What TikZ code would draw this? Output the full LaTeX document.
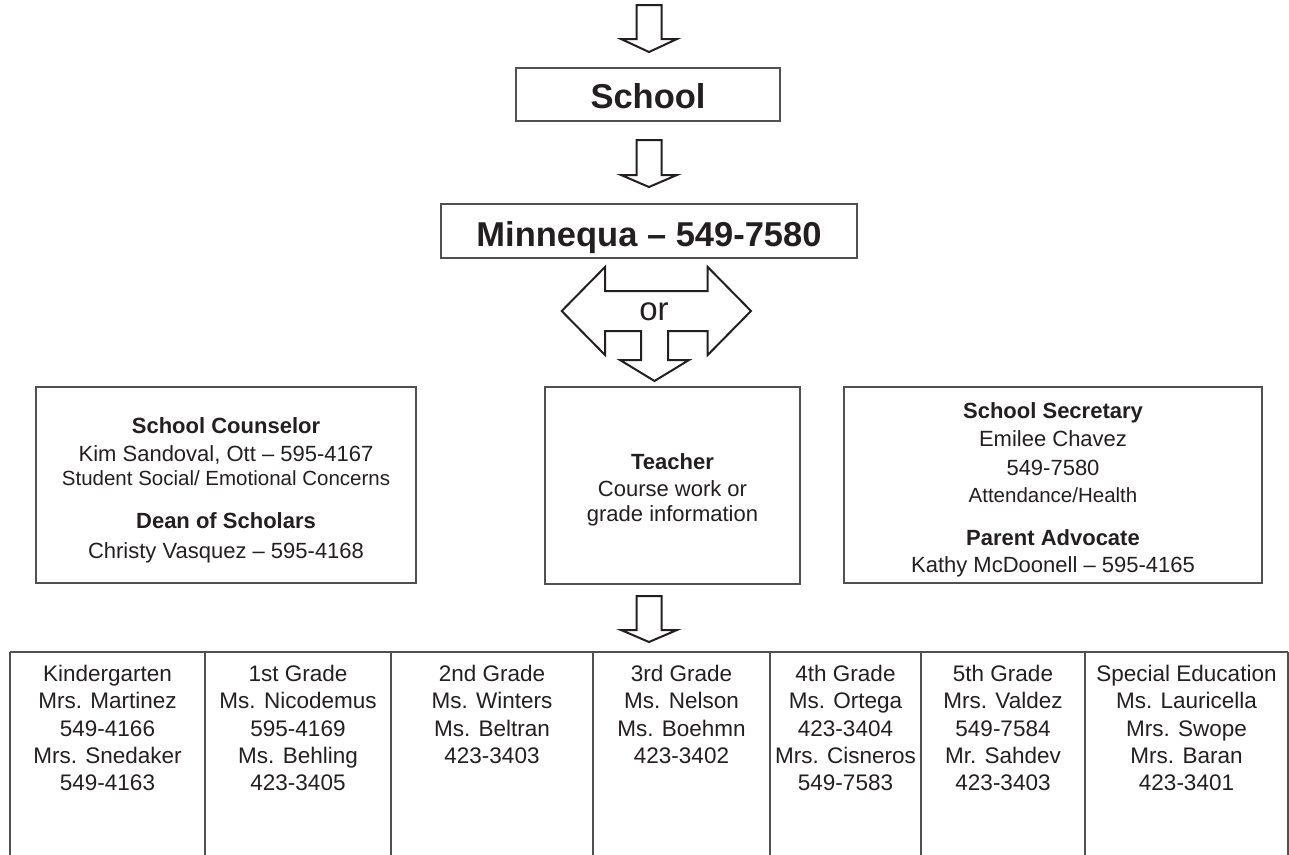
\documentclass[tikz,border=0pt]{standalone}
\usepackage{fontspec}
\setmainfont{Liberation Sans}
\definecolor{ink}{HTML}{231F20}
\definecolor{framec}{HTML}{505050}
\newcommand\bdown[4]{%
  \draw[blk] (#1-12.5,#2) -- (#1+12.5,#2) -- (#1+12.5,#3) -- (#1+28,#3) -- (#1,#4) -- (#1-28,#3) -- (#1-12.5,#3) -- cycle;}
\begin{document}
\begin{tikzpicture}[x=1pt,y=-1pt,
  framebox/.style={draw=framec, line width=1.5pt, inner sep=0pt},
  tabline/.style={draw=framec, line width=1.5pt},
  blk/.style={draw=ink, line width=2pt, fill=white, line join=miter},
  reg/.style={text=ink, inner sep=0pt, anchor=base, font=\fontsize{22}{26}\selectfont},
  sml/.style={reg, font=\fontsize{20.5}{24}\selectfont},
  bld/.style={reg, font=\fontsize{22}{26}\selectfont\bfseries},
  title/.style={reg, font=\fontsize{34.5}{40}\selectfont\bfseries},
  cell/.style={reg, font=\fontsize{22.5}{27}\selectfont}]
\useasboundingbox (0,0) rectangle (1289,854);

% arrows
\bdown{649}{5}{39}{52}
\bdown{649}{140}{175}{187}
\bdown{649}{596}{630}{642}

% title boxes
\node[framebox, minimum width=264pt, minimum height=53pt] (school) at (648,94.5) {};
\node[title] (schooltxt) at (648,108.3) {School};
\node[framebox, minimum width=416pt, minimum height=54pt] (minn) at (649,231) {};
\node[title] (minntxt) at (649,246.5) {Minnequa – 549-7580};

% or arrow
\draw[blk] (561.7,311) -- (605,267) -- (605,291) -- (707.7,291) -- (707.7,267)
  -- (751,311) -- (707.7,355) -- (707.7,331) -- (668,331) -- (668,360) -- (689,360)
  -- (654.5,381) -- (620,360) -- (641,360) -- (641,331) -- (605,331) -- (605,355) -- cycle;
\node[reg, font=\fontsize{33}{38}\selectfont] (ortxt) at (654,320) {or};

% three boxes
\node[framebox, minimum width=380pt, minimum height=196pt] (left) at (226,485) {};
\node[bld] (l1) at (226,433.3) {School Counselor};
\node[reg] (l2) at (226,461.7) {Kim Sandoval, Ott – 595-4167};
\node[sml] (l3) at (226,485) {Student Social/ Emotional Concerns};
\node[bld] (l4) at (226,528) {Dean of Scholars};
\node[reg] (l5) at (226,558) {Christy Vasquez – 595-4168};

\node[framebox, minimum width=255pt, minimum height=197pt] (teacher) at (672.5,485.5) {};
\node[bld] (t1) at (672.5,469) {Teacher};
\node[reg] (t2) at (672.5,496) {Course work or};
\node[reg] (t3) at (672.5,521.7) {grade information};

\node[framebox, minimum width=418pt, minimum height=196pt] (right) at (1053,485) {};
\node[bld] (r1) at (1053,418) {School Secretary};
\node[reg] (r2) at (1053,446) {Emilee Chavez};
\node[reg] (r3) at (1053,475) {549-7580};
\node[sml] (r4) at (1053,502.7) {Attendance/Health};
\node[bld] (r5) at (1053,545) {Parent Advocate};
\node[reg] (r6) at (1053,572.7) {Kathy McDoonell – 595-4165};

% table
\draw[tabline] (10,652) -- (1288,652);
\foreach \vx in {10,205,391,593,770,921,1085,1288}
  \draw[tabline] (\vx,652) -- (\vx,860);

\foreach \t [count=\i] in {Kindergarten,Mrs. Martinez,549-4166,Mrs. Snedaker,549-4163}
  \node[cell] (ca\i) at (107.5,654.2+27.3*\i) {\t};
\foreach \t [count=\i] in {1st Grade,Ms. Nicodemus,595-4169,Ms. Behling,423-3405}
  \node[cell] (cb\i) at (298,654.2+27.3*\i) {\t};
\foreach \t [count=\i] in {2nd Grade,Ms. Winters,Ms. Beltran,423-3403}
  \node[cell] (cc\i) at (492,654.2+27.3*\i) {\t};
\foreach \t [count=\i] in {3rd Grade,Ms. Nelson,Ms. Boehmn,423-3402}
  \node[cell] (cd\i) at (681.5,654.2+27.3*\i) {\t};
\foreach \t [count=\i] in {4th Grade,Ms. Ortega,423-3404,Mrs. Cisneros,549-7583}
  \node[cell] (ce\i) at (845.5,654.2+27.3*\i) {\t};
\foreach \t [count=\i] in {5th Grade,Mrs. Valdez,549-7584,Mr. Sahdev,423-3403}
  \node[cell] (cf\i) at (1003,654.2+27.3*\i) {\t};
\foreach \t [count=\i] in {Special Education,Ms. Lauricella,Mrs. Swope,Mrs. Baran,423-3401}
  \node[cell] (cg\i) at (1186.5,654.2+27.3*\i) {\t};
\end{tikzpicture}
\end{document}
